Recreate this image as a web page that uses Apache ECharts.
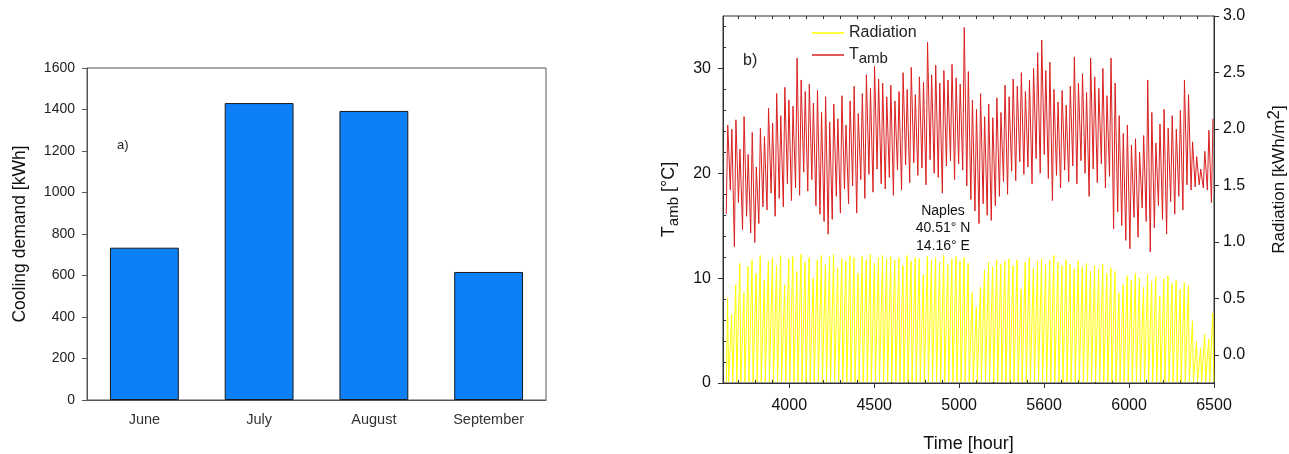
<!DOCTYPE html>
<html><head><meta charset="utf-8">
<script src="https://cdn.jsdelivr.net/npm/echarts@6/dist/echarts.min.js"></script>
<style>html,body{margin:0;padding:0;background:#fff}#c{width:1289px;height:454px}</style>
</head><body><div id="c"></div>
<script>
// ---------- panel a) ----------
const months = ['June', 'July', 'August', 'September'];
const coolingDemand = [734, 1431, 1393, 617];

// ---------- panel b) ----------
const timeTickValues = [4000, 4500, 5000, 5500, 6000, 6500];
const timeTickLabels = ['4000', '4500', '5000', '5600', '6000', '6500'];
const tempTicks = [0, 10, 20, 30];
const radTicks = [0, 0.5, 1.0, 1.5, 2.0, 2.5, 3.0];
const startHour = 3624;            // 1 June, 00:00
const radNight = -0.24;            // night floor as drawn
// daily maximum / minimum ambient temperature [°C], 1 June .. 28 Sept
const tempMax = [
  24.6, 24.2, 25.1, 22.3, 25.4, 21.8, 23.9, 20.6, 24.3, 23.5,
  26.2, 24.8, 27.6, 25.5, 28.2, 27.0, 26.4, 31.0, 28.9, 27.8,
  28.5, 26.7, 27.9, 25.8, 27.3, 24.9, 26.6, 25.2, 27.4, 24.6,
  26.9, 28.3, 25.7, 27.6, 29.4, 28.1, 30.2, 29.0, 28.6, 27.3,
  28.4, 26.9, 27.8, 29.6, 28.0, 30.1, 27.5, 29.2, 28.7, 32.5,
  29.4, 30.3, 28.6, 29.8, 28.9, 30.4, 29.1, 28.5, 33.9, 29.7,
  27.0, 26.1, 27.6, 25.4, 26.6, 25.3, 27.2, 25.8, 28.4, 27.3,
  29.0, 28.3, 29.6, 27.8, 28.9, 30.0, 31.5, 32.7, 29.8, 30.6,
  28.0, 26.8, 27.9, 26.5, 28.3, 31.1, 28.6, 29.5, 27.7, 31.0,
  29.2, 28.1, 30.0, 27.4, 31.0, 28.6, 25.5, 23.8, 24.6, 22.7,
  23.3, 22.0, 23.6, 28.9, 25.8, 22.9, 24.7, 26.1, 24.3, 25.5,
  24.2, 26.0, 28.9, 27.5, 23.0, 21.6, 20.4, 22.1, 24.1, 25.2
];
const tempMin = [
  16.1, 18.4, 13.0, 17.2, 14.6, 15.9, 14.3, 13.4, 15.2, 16.8,
  16.5, 18.1, 15.9, 17.6, 16.8, 19.0, 17.4, 18.6, 17.9, 20.1,
  18.3, 19.4, 16.9, 16.1, 15.4, 14.2, 15.6, 17.8, 16.2, 18.5,
  17.1, 18.8, 16.2, 19.4, 17.6, 19.9, 18.2, 20.4, 19.0, 18.5,
  19.6, 17.9, 20.3, 18.4, 20.8, 19.1, 21.0, 19.8, 20.5, 18.9,
  21.3, 20.0, 19.6, 18.1, 20.7, 21.2, 19.4, 20.9, 20.3, 18.8,
  17.5, 16.4, 15.2, 17.1, 16.0, 15.5, 16.9, 17.8, 19.2, 18.0,
  20.2, 19.3, 21.1, 19.9, 20.6, 19.0, 21.4, 20.0, 21.8, 19.5,
  17.4, 19.8, 18.6, 20.3, 19.2, 20.7, 19.0, 21.2, 20.0, 17.8,
  20.4, 19.1, 20.9, 18.6, 19.7, 14.7, 16.3, 15.0, 13.6, 12.8,
  15.8, 13.9, 16.7, 15.4, 12.5, 14.8, 16.9, 15.6, 14.2, 17.3,
  16.1, 17.8, 16.5, 18.9, 18.4, 18.7, 18.9, 18.6, 18.4, 17.2
];
// daily peak hourly radiation [kWh/m2]
const radPeak = [
  0.50, 0.36, 0.62, 0.81, 0.55, 0.78, 0.84, 0.72, 0.88, 0.66,
  0.83, 0.86, 0.79, 0.88, 0.62, 0.85, 0.87, 0.74, 0.89, 0.82,
  0.86, 0.68, 0.84, 0.88, 0.80, 0.87, 0.89, 0.77, 0.85, 0.83,
  0.88, 0.86, 0.72, 0.87, 0.84, 0.89, 0.81, 0.86, 0.88, 0.85,
  0.87, 0.84, 0.86, 0.79, 0.88, 0.83, 0.86, 0.85, 0.71, 0.87,
  0.84, 0.86, 0.82, 0.88, 0.80, 0.85, 0.87, 0.83, 0.86, 0.81,
  0.55, 0.42, 0.60, 0.75, 0.82, 0.78, 0.84, 0.80, 0.83, 0.85,
  0.79, 0.84, 0.58, 0.82, 0.86, 0.77, 0.83, 0.85, 0.80, 0.84,
  0.88, 0.82, 0.79, 0.84, 0.80, 0.76, 0.83, 0.78, 0.81, 0.74,
  0.79, 0.76, 0.80, 0.72, 0.77, 0.74, 0.55, 0.62, 0.70, 0.66,
  0.72, 0.68, 0.60, 0.71, 0.65, 0.69, 0.52, 0.67, 0.70, 0.63,
  0.66, 0.58, 0.64, 0.61, 0.30, 0.12, 0.06, 0.18, 0.14, 0.37
];

// assemble hourly-positioned points (min ~05h, max ~14h; sunrise/noon/sunset)
const tempData = [];
const radData = [];
for (let d = 0; d < tempMax.length; d++) {
  const t0 = startHour + 24 * d;
  tempData.push([t0 + 5, tempMin[d]], [t0 + 14, tempMax[d]]);
  radData.push([t0 + 6, radNight], [t0 + 13, radPeak[d]], [t0 + 19, radNight]);
}
const minorTime = [];
for (let v = 3700; v <= 6400; v += 100) if (timeTickValues.indexOf(v) < 0) minorTime.push(v);
const minorTemp = [];
for (let v = 2; v <= 34; v += 2) if (v % 10 !== 0) minorTemp.push(v);

const FONT = 'Liberation Sans, Arial, sans-serif';
const RED = '#da1f1f';
const YEL = '#ffff00';
const chart = echarts.init(document.getElementById('c'), null, { renderer: 'canvas' });
const AX = '#333';
const legendText = {
  color: '#222', fontSize: 16, fontFamily: FONT,
  rich: { t: { fontSize: 16, fontFamily: FONT, color: '#222' },
          s: { fontSize: 15, fontFamily: FONT, color: '#222', padding: [7, 0, 0, 0] } }
};
chart.setOption({
  animation: false,
  textStyle: { fontFamily: FONT },
  grid: [
    { left: 87, top: 68, width: 459, height: 332, show: true, borderColor: '#555', borderWidth: 1,
      containLabel: false, outerBoundsMode: 'none' },
    { left: 723, top: 16, width: 491, height: 367, show: true, borderColor: AX, borderWidth: 1,
      containLabel: false, outerBoundsMode: 'none' }
  ],
  legend: [
    { data: ['Radiation'], left: 807, top: 20, icon: 'rect', itemWidth: 32, itemHeight: 1.5,
      formatter: n => '{t|' + n + '}', textStyle: legendText },
    { data: ['Tamb'], left: 807, top: 42, icon: 'rect', itemWidth: 32, itemHeight: 1.5,
      formatter: () => '{t|T}{s|amb}', textStyle: legendText }
  ],
  xAxis: [
    { gridIndex: 0, type: 'category', data: months,
      axisLine: { onZero: false, lineStyle: { color: '#555' } },
      axisTick: { alignWithLabel: true, length: 5, lineStyle: { color: '#555' } },
      axisLabel: { color: '#333', fontSize: 14.5, margin: 12, fontFamily: FONT } },
    { gridIndex: 1, type: 'value', min: 3610, max: 6500, position: 'bottom',
      splitLine: { show: false },
      axisLine: { onZero: false, lineStyle: { color: AX } },
      axisTick: { customValues: timeTickValues, length: 5, lineStyle: { color: AX } },
      axisLabel: { customValues: timeTickValues, color: '#111', fontSize: 16, margin: 15, fontFamily: FONT,
                   formatter: v => timeTickLabels[timeTickValues.indexOf(v)] },
      name: 'Time [hour]', nameLocation: 'middle', nameGap: 52,
      nameTextStyle: { fontSize: 18, color: '#111', fontFamily: FONT } },
    { gridIndex: 1, type: 'value', min: 3610, max: 6500, position: 'bottom',
      splitLine: { show: false }, axisLine: { show: false, onZero: false }, axisLabel: { show: false },
      axisTick: { inside: true, customValues: minorTime, length: 3, lineStyle: { color: AX } } },
    { gridIndex: 1, type: 'value', min: 3610, max: 6500, position: 'top',
      splitLine: { show: false }, axisLine: { show: false, onZero: false }, axisLabel: { show: false },
      axisTick: { inside: true, customValues: timeTickValues.concat(minorTime), length: 3, lineStyle: { color: AX } } }
  ],
  yAxis: [
    { gridIndex: 0, type: 'value', min: 0, max: 1600, interval: 200,
      splitLine: { show: false },
      axisLine: { show: true, onZero: false, lineStyle: { color: '#555' } },
      axisTick: { show: true, length: 5, lineStyle: { color: '#555' } },
      axisLabel: { color: '#222', fontSize: 14, margin: 12, fontFamily: FONT, formatter: v => String(v) },
      name: 'Cooling demand [kWh]', nameLocation: 'middle', nameGap: 58, nameRotate: 90,
      nameTextStyle: { fontSize: 17.5, color: '#111', fontFamily: FONT } },
    { gridIndex: 1, type: 'value', min: 0, max: 35, position: 'left',
      splitLine: { show: false },
      axisLine: { show: true, onZero: false, lineStyle: { color: AX } },
      axisTick: { show: true, customValues: tempTicks, length: 5, lineStyle: { color: AX } },
      axisLabel: { customValues: tempTicks, color: '#111', fontSize: 16, margin: 12, fontFamily: FONT },
      name: '{t|T}{s|amb} {t|[°C]}', nameLocation: 'middle', nameGap: 42, nameRotate: 90,
      nameTextStyle: { fontSize: 18, color: '#111', fontFamily: FONT,
        rich: { t: { fontSize: 18, color: '#111', fontFamily: FONT },
                s: { fontSize: 15, color: '#111', fontFamily: FONT, padding: [8, 0, 0, 0] } } } },
    { gridIndex: 1, type: 'value', min: -0.25, max: 3.0, position: 'right',
      splitLine: { show: false },
      axisLine: { show: true, onZero: false, lineStyle: { color: AX } },
      axisTick: { show: true, customValues: radTicks, length: 5, lineStyle: { color: AX } },
      axisLabel: { customValues: radTicks, color: '#111', fontSize: 16, margin: 9, fontFamily: FONT,
                   formatter: v => v.toFixed(1) },
      name: '{t|Radiation [kWh/m}{p|2}{t|]}', nameLocation: 'middle', nameGap: 52, nameRotate: 90,
      nameTextStyle: { fontSize: 17, color: '#111', fontFamily: FONT, padding: [0, 0, 0, 40],
        rich: { t: { fontSize: 17, color: '#111', fontFamily: FONT },
                p: { fontSize: 17, color: '#111', fontFamily: FONT, padding: [0, 0, 10, 0] } } } },
    { gridIndex: 1, type: 'value', min: 0, max: 35, position: 'left',
      splitLine: { show: false }, axisLine: { show: false, onZero: false }, axisLabel: { show: false },
      axisTick: { show: true, inside: true, customValues: minorTemp, length: 3, lineStyle: { color: AX } } }
  ],
  series: [
    { type: 'bar', name: 'Cooling demand', xAxisIndex: 0, yAxisIndex: 0, data: coolingDemand,
      barWidth: '60%', itemStyle: { color: '#0d80f7', borderColor: '#1a1a1a', borderWidth: 1 } },
    { type: 'line', name: 'Radiation', xAxisIndex: 1, yAxisIndex: 2, data: radData,
      symbol: 'none', lineStyle: { color: YEL, width: 1 }, itemStyle: { color: YEL } },
    { type: 'line', name: 'Tamb', xAxisIndex: 1, yAxisIndex: 1, data: tempData,
      symbol: 'none', lineStyle: { color: RED, width: 1 }, itemStyle: { color: RED } }
  ],
  graphic: [
    { type: 'text', left: 117, top: 139, style: { text: 'a)', fontSize: 13, fill: '#222', fontFamily: FONT } },
    { type: 'text', left: 743, top: 53, style: { text: 'b)', fontSize: 16, fill: '#222', fontFamily: FONT } },
    { type: 'text', x: 943, y: 202, style: { text: 'Naples\n40.51° N\n14.16° E', fontSize: 14, lineHeight: 17.5,
      fill: '#111', fontFamily: FONT, align: 'center' } }
  ]
});
</script></body></html>
